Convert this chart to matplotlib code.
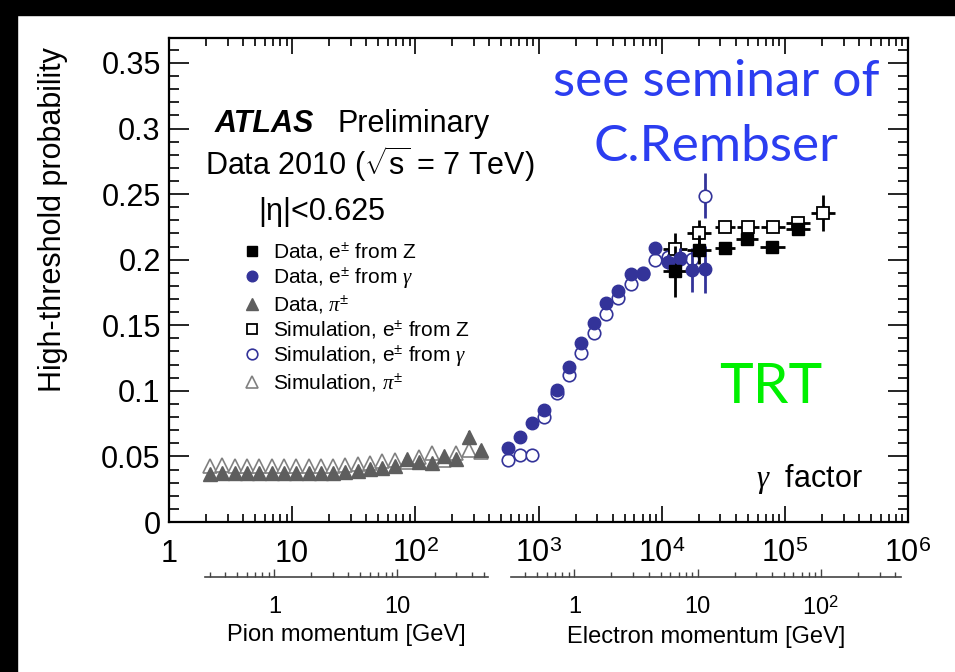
import matplotlib
matplotlib.use("Agg")
import matplotlib.pyplot as plt
from matplotlib.patches import Rectangle
from matplotlib.ticker import FixedLocator, LogLocator, MultipleLocator, FuncFormatter, NullFormatter

plt.rcParams['font.family'] = ['Liberation Sans', 'DejaVu Sans']
plt.rcParams['mathtext.fontset'] = 'custom'
plt.rcParams['mathtext.rm'] = 'Liberation Sans'
plt.rcParams['mathtext.it'] = 'Liberation Serif:italic'
plt.rcParams['mathtext.bf'] = 'Liberation Sans:bold'

# pions (gamma factor, high-threshold probability)
pi_gamma = [2.15, 2.71, 3.41, 4.30, 5.41, 6.81, 8.57, 10.8, 13.6, 17.1, 21.5, 27.1,
            34.1, 43.0, 54.1, 68.1, 85.7, 108, 136, 171, 215, 271, 341]
pi_data = [0.0364, 0.0371, 0.0371, 0.0371, 0.0371, 0.0371, 0.0372, 0.0373, 0.0373, 0.0374,
           0.0376, 0.0381, 0.0391, 0.0402, 0.0412, 0.0427, 0.0478, 0.0460, 0.0448, 0.0503,
           0.0478, 0.0651, 0.0549]
pi_data_err = [0.001] * 20 + [0.002, 0.004, 0.004]
pi_sim = [0.0430, 0.0435, 0.0427, 0.0427, 0.0427, 0.0427, 0.0427, 0.0428, 0.0428, 0.0429,
          0.0430, 0.0435, 0.0442, 0.0453, 0.0463, 0.0473, 0.0460, 0.0498, 0.0529, 0.0473,
          0.0529, 0.0549, 0.0536]

# electrons from photon conversions
conv_gamma = [568, 706, 889, 1106, 1402, 1766, 2208, 2818, 3524, 4436, 5592, 6998,
              8810, 11300, 14060, 17700, 22400]
conv_data = [0.0562, 0.0651, 0.0753, 0.0854, 0.1007, 0.1185, 0.1368, 0.1520, 0.1668, 0.1764,
             0.1889, 0.1892, 0.2088, 0.1986, 0.2011, 0.1922, 0.1927]
conv_data_err = [0.001] * 12 + [0.003, 0.006, 0.008, 0.0165, 0.018]
conv_sim = [0.0473, 0.0511, 0.0511, 0.0803, 0.0986, 0.1121, 0.1287, 0.1444, 0.1587, 0.1711,
            0.1815, 0.1897, 0.1998, 0.2019, 0.2004, 0.2004, 0.2487]
conv_sim_err = [0.001] * 12 + [0.002, 0.004, 0.006, 0.008, 0.0172]

# electrons from Z decays
z_gamma = [12800, 20150, 32600, 49400, 79400, 128000]
z_data = [0.1910, 0.2075, 0.2088, 0.2156, 0.2100, 0.2235]
z_data_err = [0.0197, 0.011, 0.004, 0.004, 0.003, 0.003]
z_data_bin = [0.10, 0.10, 0.08, 0.09, 0.10, 0.10]   # half bin width, decades
z_sim_gamma = [12800, 20150, 32600, 50000, 80000, 128000, 204700]
z_sim = [0.2082, 0.2202, 0.2248, 0.2248, 0.2248, 0.2278, 0.2355]
z_sim_err = [0.012, 0.010, 0.004, 0.004, 0.003, 0.003, 0.014]
z_sim_bin = [0.10, 0.10, 0.08, 0.09, 0.10, 0.10, 0.10]

M_PI = 0.1396
M_E = 0.000511
pi_axis_range = (1.96, 390)
e_axis_range = (597, 8.8e5)

BLUE = '#333399'
GRAY_D = '#5e5e5e'
GRAY_S = '#808080'


def log_xerr(x, halfwidth):
    lo = [v - v * 10 ** (-h) for v, h in zip(x, halfwidth)]
    hi = [v * 10 ** h - v for v, h in zip(x, halfwidth)]
    return [lo, hi]


fig = plt.figure(figsize=(9.55, 6.72), dpi=100, facecolor='white')
ax = fig.add_axes([169 / 955, 150 / 672, 739 / 955, 484 / 672])
ax.set_xscale('log')
ax.set_xlim(1, 1e6)
ax.set_ylim(0, 0.369)

# simulation first (white-filled open markers), data on top
ax.errorbar(pi_gamma, pi_sim, yerr=0.001, fmt='none', ecolor=GRAY_S, elinewidth=1, zorder=2)
h_pi_sim, = ax.plot(pi_gamma, pi_sim, '^', ms=9.5, mfc='white', mec=GRAY_S, mew=1.2, ls='none', zorder=3)
ax.errorbar(conv_gamma, conv_sim, yerr=conv_sim_err, fmt='none', ecolor=BLUE, elinewidth=2, zorder=2)
h_conv_sim, = ax.plot(conv_gamma, conv_sim, 'o', ms=9, mfc='white', mec=BLUE, mew=1.2, ls='none', zorder=3)
ax.errorbar(z_sim_gamma, z_sim, yerr=z_sim_err, xerr=log_xerr(z_sim_gamma, z_sim_bin),
            fmt='none', ecolor='black', elinewidth=2, zorder=2)
h_z_sim, = ax.plot(z_sim_gamma, z_sim, 's', ms=8.5, mfc='white', mec='black', mew=1.3, ls='none', zorder=3)

ax.errorbar(pi_gamma, pi_data, yerr=pi_data_err, fmt='none', ecolor=GRAY_D, elinewidth=1.5, zorder=4)
h_pi_data, = ax.plot(pi_gamma, pi_data, '^', ms=9.5, color=GRAY_D, ls='none', zorder=5)
ax.errorbar(conv_gamma, conv_data, yerr=conv_data_err, fmt='none', ecolor=BLUE, elinewidth=2, zorder=4)
h_conv_data, = ax.plot(conv_gamma, conv_data, 'o', ms=9, color=BLUE, ls='none', zorder=5)
ax.errorbar(z_gamma, z_data, yerr=z_data_err, xerr=log_xerr(z_gamma, z_data_bin),
            fmt='none', ecolor='black', elinewidth=2, zorder=4)
h_z_data, = ax.plot(z_gamma, z_data, 's', ms=8.5, color='black', ls='none', zorder=5)

# axes styling
for s in ax.spines.values():
    s.set_linewidth(1.6)
ax.xaxis.set_major_locator(FixedLocator([1, 10, 1e2, 1e3, 1e4, 1e5, 1e6]))
ax.xaxis.set_minor_locator(LogLocator(base=10, subs=range(2, 10), numticks=20))
ax.xaxis.set_minor_formatter(NullFormatter())
main_x_labels = {1: '1', 10: '10', 100: '$10^2$', 1000: '$10^3$', 10000: '$10^4$',
                 100000: '$10^5$', 1000000: '$10^6$'}
ax.xaxis.set_major_formatter(FuncFormatter(lambda v, p: main_x_labels.get(int(round(v)), '')))
ax.yaxis.set_major_locator(MultipleLocator(0.05))
ax.yaxis.set_minor_locator(MultipleLocator(0.01))
ax.yaxis.set_major_formatter(FuncFormatter(lambda v, p: ('%g' % round(v, 2))))
ax.tick_params(axis='both', which='both', direction='in', top=True, right=True, width=1.2)
ax.tick_params(axis='x', which='major', length=11.5, pad=12, labelsize=22)
ax.tick_params(axis='x', which='minor', length=5.8)
ax.tick_params(axis='y', which='major', length=14.4, pad=6, labelsize=22)
ax.tick_params(axis='y', which='minor', length=7.2)
ax.set_ylabel('High-threshold probability', fontsize=22)
ax.yaxis.set_label_coords(-0.136, 0.624)

# legend
handles = [h_z_data, h_conv_data, h_pi_data, h_z_sim, h_conv_sim, h_pi_sim]
labels = ['Data, e$^{\\pm}$ from Z', 'Data, e$^{\\pm}$ from $\\gamma$', 'Data, $\\pi^{\\pm}$',
          'Simulation, e$^{\\pm}$ from Z', 'Simulation, e$^{\\pm}$ from $\\gamma$',
          'Simulation, $\\pi^{\\pm}$']
ax.legend(handles, labels, loc='upper left', bbox_to_anchor=(0.0988, 0.582), fontsize=15,
          handlelength=0.95, handletextpad=0.55, labelspacing=0.12, frameon=False,
          borderaxespad=0, borderpad=0, markerscale=0.85)

# annotations
fig.text(215 / 955, 1 - 132 / 672, 'ATLAS', fontsize=22, fontweight='bold', fontstyle='italic')
fig.text(337 / 955, 1 - 132 / 672, 'Preliminary', fontsize=22)
fig.text(205 / 955, 1 - 175 / 672, 'Data 2010 ($\\sqrt{\\mathrm{s}}$ = 7 TeV)', fontsize=22)
fig.text(258 / 955, 1 - 220 / 672, '|η|<0.625', fontsize=22)
fig.text(756 / 955, 1 - 487 / 672, '$\\gamma$  factor', fontsize=22)
fig.text(716 / 955, 1 - 96 / 672, 'see seminar of', fontsize=37, color='#2b3df0',
         family=['Lato', 'DejaVu Sans'], ha='center')
fig.text(716 / 955, 1 - 161 / 672, 'C.Rembser', fontsize=37, color='#2b3df0',
         family=['Lato', 'DejaVu Sans'], ha='center')
fig.text(719 / 955, 1 - 403 / 672, 'TRT', fontsize=41, color='#00f000',
         family=['Lato', 'DejaVu Sans'])

# momentum axes below
sub_labels = {1: '1', 10: '10', 100: '$10^2$'}


def momentum_axis(g_range, mass, title):
    inv = fig.transFigure.inverted()
    x0 = inv.transform(ax.transData.transform((g_range[0], 0.1)))[0]
    x1 = inv.transform(ax.transData.transform((g_range[1], 0.1)))[0]
    sub = fig.add_axes([x0, 1 - 577 / 672, x1 - x0, 0.0001])
    sub.set_xscale('log')
    sub.set_xlim(g_range[0] * mass, g_range[1] * mass)
    sub.patch.set_alpha(0)
    sub.set_yticks([])
    for s in ['top', 'left', 'right']:
        sub.spines[s].set_visible(False)
    sub.spines['bottom'].set_linewidth(1.2)
    sub.spines['bottom'].set_color('#444444')
    sub.xaxis.set_major_locator(FixedLocator([1, 10, 100]))
    sub.xaxis.set_minor_locator(LogLocator(base=10, subs=range(2, 10), numticks=20))
    sub.xaxis.set_minor_formatter(NullFormatter())
    sub.xaxis.set_major_formatter(FuncFormatter(lambda v, p: sub_labels.get(int(round(v)), '')))
    sub.tick_params(axis='x', which='major', direction='in', length=6, width=1, pad=14,
                    labelsize=17, color='#444444')
    sub.tick_params(axis='x', which='minor', direction='in', length=3.5, width=1, color='#444444')
    sub.set_xlabel(title, fontsize=17, labelpad=4)


momentum_axis(pi_axis_range, M_PI, 'Pion momentum [GeV]')
momentum_axis(e_axis_range, M_E, 'Electron momentum [GeV]')

# black frame of the slide
fig.patches.append(Rectangle((0, 0), 17 / 955, 1, transform=fig.transFigure, color='black', zorder=10))
fig.patches.append(Rectangle((0, 1 - 15 / 672), 1, 15 / 672, transform=fig.transFigure,
                             color='black', zorder=10))

fig.savefig('out.png', dpi=100, facecolor='white')
